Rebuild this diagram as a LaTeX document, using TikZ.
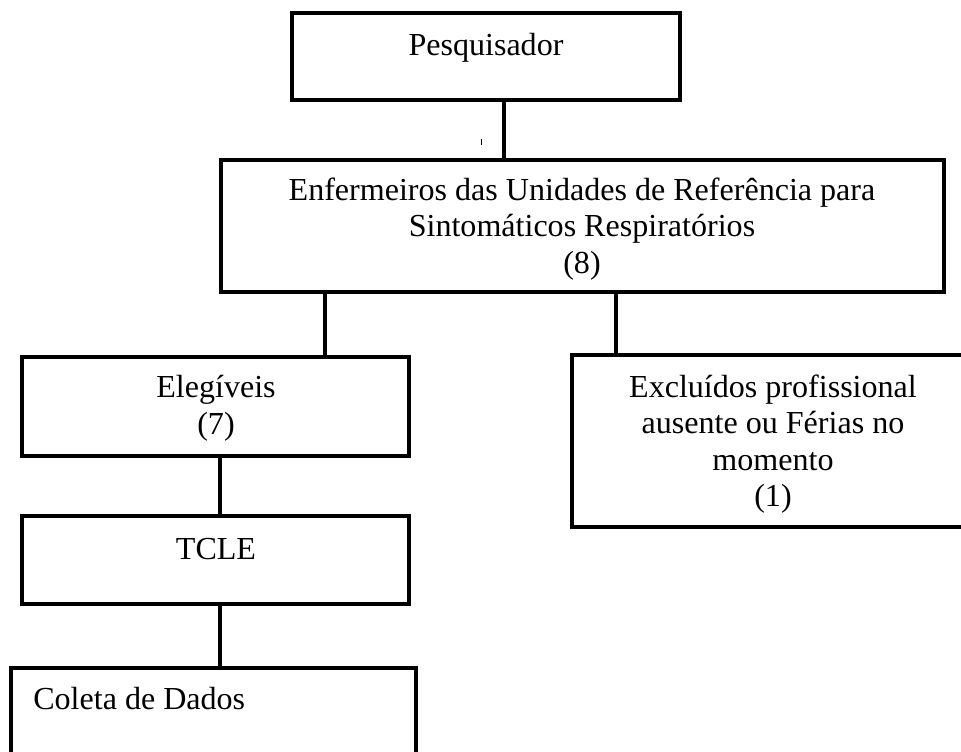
\documentclass[tikz,border=0pt]{standalone}
\usepackage{fontspec}
\setmainfont{Liberation Serif}
\tikzset{
  box/.style={draw, line width=2.85pt},
  txt/.style={inner sep=0pt, align=center, font=\fontsize{22.8}{26}\selectfont},
  link/.style={line width=2.85pt}
}
\begin{document}
\begin{tikzpicture}[x=0.025cm, y=-0.025cm]
        \useasboundingbox (0,0) rectangle (961,751);
        \clip (0,0) rectangle (961,751);
        % Draw the boxes
        \node[box, minimum width=9.7cm, minimum height=2.175cm] (pesq) at (486,56.5) {};
        \node[box, minimum width=18.075cm, minimum height=3.3cm] (enf) at (582.5,226) {};
        \node[box, minimum width=9.675cm, minimum height=2.475cm] (eleg) at (215.5,406.5) {};
        \node[box, minimum width=10.075cm, minimum height=4.3cm] (excl) at (773.5,441) {};
        \node[box, minimum width=9.675cm, minimum height=2.2cm] (tcle) at (215.5,560) {};
        \node[box, minimum width=10.125cm, minimum height=2.55cm] (coleta) at (213.5,719) {};
        % Draw the texts
        \node[txt] (pesqt) at (486,48) {Pesquisador};
        \node[txt] (enft) at (582,229) {Enfermeiros das Unidades de Referência para\\Sintomáticos Respiratórios\\(8)};
        \node[txt] (elegt) at (216,408) {Elegíveis\\(7)};
        \node[txt] (exclt) at (773,444) {Excluídos profissional\\ausente ou Férias no\\momento\\(1)};
        \node[txt] (tclet) at (216,549) {TCLE};
        \node[txt, anchor=west] (coletat) at (33,699) {Coleta de Dados};
        % Draw the connections
        \coordinate (c1) at (504,0);
        \coordinate (c2) at (325,0);
        \coordinate (c3) at (616,0);
        \coordinate (c4) at (220,0);
        \draw[link] (pesq.south -| c1) -- (enf.north -| c1);
        \draw[link] (enf.south -| c2) -- (eleg.north -| c2);
        \draw[link] (enf.south -| c3) -- (excl.north -| c3);
        \draw[link] (eleg.south -| c4) -- (tcle.north -| c4);
        \draw[link] (tcle.south -| c4) -- (coleta.north -| c4);
        \draw[line width=0.7pt] (481,139) -- (481,145);
    \end{tikzpicture}
\end{document}
